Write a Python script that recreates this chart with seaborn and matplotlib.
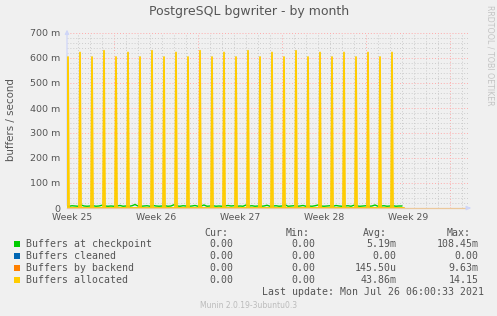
import numpy as np
import pandas as pd
import matplotlib
matplotlib.use("Agg")
import matplotlib.pyplot as plt
import matplotlib.transforms as mtransforms
from matplotlib.ticker import FixedLocator, MultipleLocator, FuncFormatter
import seaborn as sns

# ---------------- data ----------------
title = "PostgreSQL bgwriter - by month"
ylabel = "buffers / second"
week_numbers = [25, 26, 27, 28, 29]          # week labels
week_start_days = [7, 14, 21, 28, 35]        # days since Mon Jun 21 2021 (start of week 26..30)
x_range_days = (3.083, 36.5)

# Buffers allocated: one spike per day (04:00), values in buffers/second
alloc_spike_first_day = 3 + 4 / 24
alloc_spike_values = [0.604, 0.622, 0.604, 0.629, 0.604, 0.622, 0.604, 0.629,
                      0.604, 0.622, 0.604, 0.629, 0.604, 0.622, 0.604, 0.629,
                      0.604, 0.622, 0.604, 0.629, 0.604, 0.622, 0.604, 0.622,
                      0.604, 0.622, 0.604, 0.622]
sample_step_days = 1 / 12        # 2-hour rrd resolution
data_start_day = 3.0
data_end_day = 31.17

# Buffers at checkpoint, every 6 hours, in milli-buffers/second
checkpoint_start_day = 3.0
checkpoint_step_days = 0.25
checkpoint_milli = [8, 7, 9, 8, 7, 12, 8, 7, 8, 9, 7, 8, 11, 8, 7, 8, 7, 8, 10, 7,
                    8, 7, 9, 14, 8, 7, 8, 9, 7, 10, 8, 7, 8, 9, 7, 8, 13, 8, 7, 9,
                    8, 7, 8, 10, 7, 8, 12, 7, 8, 9, 7, 8, 7, 8, 10, 8, 9, 7, 8, 7,
                    12, 8, 9, 7, 8, 7, 8, 11, 7, 8, 9, 7, 8, 13, 7, 8, 9, 7, 8, 10,
                    7, 8, 7, 9, 12, 8, 7, 8, 9, 7, 10, 8, 7, 8, 9, 7, 11, 8, 7, 8,
                    9, 7, 8, 12, 7, 8, 9, 7, 8, 9, 7, 8, 8]

legend_names = ["Buffers at checkpoint", "Buffers cleaned", "Buffers by backend", "Buffers allocated"]
legend_colors = ["#00cc00", "#0066b3", "#ff8000", "#ffcc00"]
cur_vals = ["0.00", "0.00", "0.00", "0.00"]
min_vals = ["0.00", "0.00", "0.00", "0.00"]
avg_vals = ["5.19m", "0.00", "145.50u", "43.86m"]
max_vals = ["108.45m", "0.00", "9.63m", "14.15"]
last_update = "Last update: Mon Jul 26 06:00:33 2021"
footer = "Munin 2.0.19-3ubuntu0.3"
side_text = "RRDTOOL / TOBI OETIKER"

# ---------------- build frames ----------------
n = int(round((data_end_day - data_start_day) / sample_step_days)) + 1
t = data_start_day + np.arange(n) * sample_step_days
alloc = np.zeros(n)
first_idx = int(round((alloc_spike_first_day - data_start_day) / sample_step_days))
for k, v in enumerate(alloc_spike_values):
    alloc[first_idx + 12 * k] = v
df = pd.DataFrame({"day": t, "alloc": alloc, "clean": np.zeros(n), "backend": np.zeros(n)})
cp = pd.DataFrame({"day": checkpoint_start_day + np.arange(len(checkpoint_milli)) * checkpoint_step_days,
                   "val": np.array(checkpoint_milli) / 1000.0})

# ---------------- figure ----------------
sns.set_style("white")
plt.rcParams["font.family"] = ["DejaVu Sans"]
BG = "#f0f0f0"
W, H = 497, 316
fig = plt.figure(figsize=(W / 100, H / 100), dpi=100, facecolor=BG)
ax = fig.add_axes([67 / W, 1 - 208 / H, (468 - 67) / W, (208 - 33) / H])
ax.set_facecolor(BG)

lw = 1.0
sns.lineplot(data=cp, x="day", y="val", ax=ax, color=legend_colors[0], lw=lw, zorder=3)
sns.lineplot(data=df, x="day", y="clean", ax=ax, color=legend_colors[1], lw=lw, zorder=4)
sns.lineplot(data=df, x="day", y="backend", ax=ax, color=legend_colors[2], lw=lw, zorder=5)
sns.lineplot(data=df, x="day", y="alloc", ax=ax, color=legend_colors[3], lw=1.3, zorder=6)

ax.set_xlim(*x_range_days)
ax.set_ylim(0, 0.7)
ax.set_xlabel("")
ax.set_ylabel("")

ax.xaxis.set_major_locator(FixedLocator(week_start_days))
ax.xaxis.set_minor_locator(MultipleLocator(1))
ax.yaxis.set_major_locator(MultipleLocator(0.1))
ax.yaxis.set_minor_locator(MultipleLocator(0.02))
ax.set_xticklabels([])
ax.yaxis.set_major_formatter(FuncFormatter(lambda v, p: "0" if abs(v) < 1e-9 else f"{int(round(v * 1000))} m"))

dot = (0, (1, 2))
ax.grid(which="minor", color="#cccccc", ls=dot, lw=0.7)
ax.grid(which="major", color="#ffaaaa", ls=dot, lw=0.7)
ax.set_axisbelow(True)

ax.tick_params(axis="both", which="both", direction="out", length=2, width=0.7)
ax.tick_params(axis="y", which="major", labelsize=6.8, labelcolor="#555555", color="#ffaaaa", pad=3)
ax.tick_params(axis="y", which="minor", length=0)
ax.tick_params(axis="x", which="major", color="#ff9999")
ax.tick_params(axis="x", which="minor", color="#bbbbbb")

for s in ["top", "right", "left"]:
    ax.spines[s].set_visible(False)
ax.spines["bottom"].set_color("#ebc89c")
ax.spines["bottom"].set_linewidth(0.9)
ax.spines["bottom"].set_zorder(2)

# axis arrows
ax.annotate("", xy=(0, 1.035), xytext=(0, 0), xycoords="axes fraction",
            arrowprops=dict(arrowstyle="-|>", color="#cfd6f8", lw=0.9, mutation_scale=6), zorder=1)
ax.annotate("", xy=(1.014, 0), xytext=(0.995, 0), xycoords="axes fraction",
            arrowprops=dict(arrowstyle="-|>", color="#cfd6f8", lw=0.9, mutation_scale=6))

# week labels
trans = mtransforms.blended_transform_factory(ax.transData, ax.transAxes)
for wk, ws in zip(week_numbers, week_start_days):
    ax.text(ws - 3.5, -0.054, f"Week {wk}", transform=trans, ha="center", va="center",
            fontsize=6.7, color="#555555")

def fx(px):
    return px / W

def fy(py):
    return 1 - py / H

fig.text(fx(249), fy(12), title, ha="center", va="center", fontsize=9.0, color="#555555")
fig.text(fx(11), fy(120), ylabel, ha="center", va="center", rotation=90, fontsize=7.4, color="#555555")
fig.text(fx(490), fy(5), side_text, ha="center", va="top", rotation=270, fontsize=5.7, color="#c4c4c4")

mono = dict(family="DejaVu Sans Mono", fontsize=7.1, color="#555555")
rows_y = [244.3, 256.3, 268.3, 280.3]
fig.text(fx(204), fy(232.7), "Cur:", ha="left", va="center", **mono)
fig.text(fx(286), fy(232.7), "Min:", ha="left", va="center", **mono)
fig.text(fx(363), fy(232.7), "Avg:", ha="left", va="center", **mono)
fig.text(fx(447), fy(232.7), "Max:", ha="left", va="center", **mono)
for i, ry in enumerate(rows_y):
    fig.patches.append(plt.Rectangle((fx(14), fy(ry + 3)), 6 / W, 6 / H, transform=fig.transFigure,
                                     facecolor=legend_colors[i], edgecolor="none"))
    fig.text(fx(26.5), fy(ry), legend_names[i], ha="left", va="center", **mono)
    fig.text(fx(233.5), fy(ry), cur_vals[i], ha="right", va="center", **mono)
    fig.text(fx(315.5), fy(ry), min_vals[i], ha="right", va="center", **mono)
    fig.text(fx(396.5), fy(ry), avg_vals[i], ha="right", va="center", **mono)
    fig.text(fx(478.5), fy(ry), max_vals[i], ha="right", va="center", **mono)
fig.text(fx(483.5), fy(291.7), last_update, ha="right", va="center", **mono)
fig.text(fx(248.5), fy(305.5), footer, ha="center", va="center", fontsize=5.5, color="#bbbbbb")

fig.savefig("out.png", dpi=100, facecolor=BG)
